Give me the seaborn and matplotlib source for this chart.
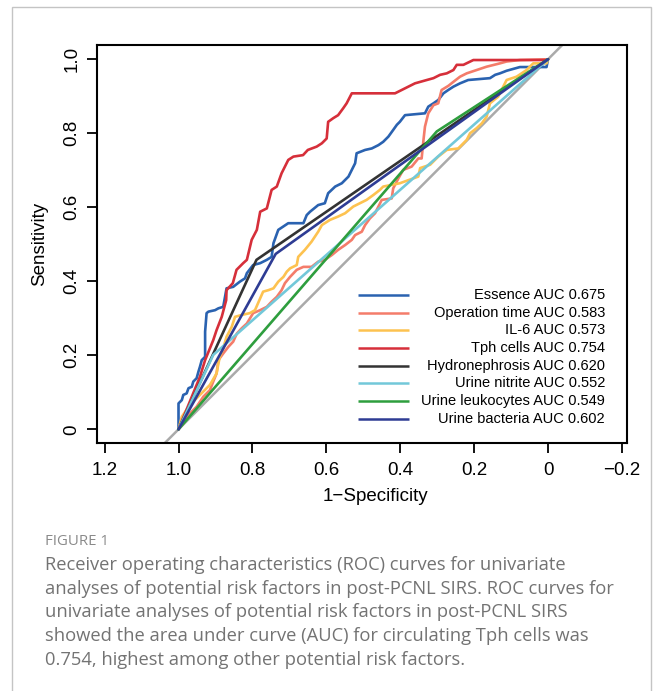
import numpy as np
import pandas as pd
import matplotlib
matplotlib.use("Agg")
import matplotlib.pyplot as plt
import seaborn as sns
from matplotlib.patches import Rectangle

# ---------------- data (specificity on x, reversed axis; sensitivity on y) ----------------
names = ["Essence", "Operation time", "IL-6", "Tph cells", "Hydronephrosis",
         "Urine nitrite", "Urine leukocytes", "Urine bacteria"]
aucs = ["0.675", "0.583", "0.573", "0.754", "0.620", "0.552", "0.549", "0.602"]
colors = ["#2A62B0", "#F47C6A", "#FDC250", "#D62F3A", "#333333",
          "#72C8D9", "#2E9E3E", "#2E3C94"]

essence_x = [1.0, 1.0, 0.991, 0.987, 0.978, 0.973, 0.964, 0.960, 0.951, 0.946, 0.942, 0.937,
             0.928, 0.928, 0.924, 0.919, 0.901, 0.892, 0.879, 0.870, 0.852, 0.834, 0.820,
             0.815, 0.798, 0.779, 0.761, 0.748, 0.743, 0.730, 0.703, 0.662, 0.653, 0.644,
             0.622, 0.604, 0.595, 0.576, 0.558, 0.540, 0.522, 0.518, 0.495, 0.477, 0.459,
             0.446, 0.432, 0.419, 0.409, 0.401, 0.387, 0.333, 0.324, 0.310, 0.297, 0.283,
             0.270, 0.256, 0.238, 0.216, 0.157, 0.143, 0.130, 0.112, 0.076, 0.004, 0.0]
essence_y = [0.0, 0.070, 0.079, 0.093, 0.097, 0.111, 0.115, 0.129, 0.138, 0.156, 0.169, 0.187,
             0.196, 0.264, 0.314, 0.318, 0.322, 0.327, 0.331, 0.381, 0.385, 0.399, 0.408,
             0.422, 0.444, 0.449, 0.458, 0.466, 0.503, 0.539, 0.557, 0.557, 0.579, 0.588,
             0.606, 0.611, 0.638, 0.656, 0.665, 0.683, 0.719, 0.746, 0.755, 0.759, 0.768,
             0.777, 0.791, 0.809, 0.823, 0.831, 0.849, 0.854, 0.872, 0.881, 0.890, 0.908,
             0.917, 0.926, 0.935, 0.944, 0.949, 0.958, 0.962, 0.969, 0.979, 0.979, 1.0]

optime_x = [1.0, 0.987, 0.969, 0.951, 0.933, 0.915, 0.906, 0.897, 0.892, 0.879, 0.865, 0.852,
            0.842, 0.829, 0.815, 0.798, 0.779, 0.761, 0.748, 0.734, 0.721, 0.712, 0.698,
            0.680, 0.662, 0.640, 0.622, 0.604, 0.585, 0.568, 0.549, 0.531, 0.522, 0.504,
            0.495, 0.482, 0.468, 0.459, 0.450, 0.423, 0.419, 0.405, 0.392, 0.369, 0.351,
            0.342, 0.337, 0.333, 0.324, 0.310, 0.297, 0.288, 0.270, 0.256, 0.238, 0.220,
            0.193, 0.166, 0.130, 0.112, 0.076, 0.0]
optime_y = [0.0, 0.016, 0.043, 0.061, 0.088, 0.106, 0.129, 0.151, 0.187, 0.205, 0.223, 0.237,
            0.259, 0.273, 0.286, 0.314, 0.322, 0.331, 0.345, 0.358, 0.376, 0.395, 0.412,
            0.431, 0.439, 0.439, 0.453, 0.458, 0.471, 0.485, 0.498, 0.512, 0.525, 0.534,
            0.552, 0.570, 0.584, 0.602, 0.620, 0.624, 0.651, 0.678, 0.701, 0.710, 0.732,
            0.732, 0.782, 0.818, 0.854, 0.876, 0.881, 0.917, 0.928, 0.939, 0.953, 0.962,
            0.971, 0.980, 0.989, 0.994, 0.998, 1.0]

il6_x = [1.0, 0.991, 0.969, 0.942, 0.915, 0.897, 0.892, 0.888, 0.879, 0.870, 0.856, 0.847,
         0.829, 0.807, 0.793, 0.779, 0.771, 0.757, 0.743, 0.730, 0.716, 0.707, 0.698, 0.680,
         0.676, 0.658, 0.640, 0.622, 0.612, 0.590, 0.568, 0.549, 0.527, 0.509, 0.491, 0.473,
         0.455, 0.446, 0.401, 0.351, 0.346, 0.319, 0.297, 0.274, 0.243, 0.220, 0.211, 0.193,
         0.179, 0.166, 0.157, 0.135, 0.112, 0.085, 0.058, 0.040, 0.004, 0.0]
il6_y = [0.0, 0.034, 0.066, 0.093, 0.120, 0.151, 0.178, 0.196, 0.219, 0.250, 0.277, 0.304,
         0.309, 0.314, 0.322, 0.354, 0.372, 0.376, 0.381, 0.399, 0.412, 0.426, 0.435, 0.444,
         0.466, 0.485, 0.507, 0.534, 0.552, 0.566, 0.575, 0.584, 0.602, 0.611, 0.620, 0.633,
         0.647, 0.656, 0.665, 0.683, 0.706, 0.715, 0.737, 0.755, 0.759, 0.782, 0.800, 0.814,
         0.827, 0.845, 0.881, 0.899, 0.944, 0.953, 0.971, 0.989, 0.989, 1.0]

tph_x = [1.0, 0.942, 0.928, 0.906, 0.897, 0.883, 0.871, 0.870, 0.853, 0.843, 0.825, 0.815,
         0.802, 0.788, 0.779, 0.761, 0.748, 0.734, 0.721, 0.703, 0.689, 0.663, 0.650, 0.626,
         0.612, 0.599, 0.595, 0.581, 0.568, 0.554, 0.545, 0.531, 0.414, 0.396, 0.378, 0.360,
         0.328, 0.310, 0.292, 0.274, 0.256, 0.247, 0.229, 0.202, 0.004, 0.0]
tph_y = [0.0, 0.142, 0.187, 0.241, 0.268, 0.304, 0.349, 0.376, 0.395, 0.431, 0.449, 0.458,
         0.512, 0.539, 0.588, 0.597, 0.647, 0.656, 0.692, 0.728, 0.737, 0.741, 0.755, 0.764,
         0.773, 0.786, 0.831, 0.841, 0.849, 0.868, 0.881, 0.908, 0.908, 0.917, 0.926, 0.935,
         0.944, 0.949, 0.958, 0.962, 0.971, 0.985, 0.985, 0.998, 0.998, 1.0]

hydro_x = [1.0, 0.789, 0.0]
hydro_y = [0.0, 0.458, 1.0]
nitrite_x = [1.0, 0.906, 0.0]
nitrite_y = [0.0, 0.201, 1.0]
leuko_x = [1.0, 0.301, 0.0]
leuko_y = [0.0, 0.805, 1.0]
bacteria_x = [1.0, 0.737, 0.0]
bacteria_y = [0.0, 0.474, 1.0]

diag_x = [1.0, 0.0]
diag_y = [0.0, 1.0]

xticks = [1.2, 1.0, 0.8, 0.6, 0.4, 0.2, 0.0, -0.2]
xticklabels = ["1.2", "1.0", "0.8", "0.6", "0.4", "0.2", "0", "\u22120.2"]
yticks = [0.0, 0.2, 0.4, 0.6, 0.8, 1.0]
yticklabels = ["0", "0.2", "0.4", "0.6", "0.8", "1.0"]

caption_title = "FIGURE 1"
caption_lines = [
    "Receiver operating characteristics (ROC) curves for univariate",
    "analyses of potential risk factors in post-PCNL SIRS. ROC curves for",
    "univariate analyses of potential risk factors in post-PCNL SIRS",
    "showed the area under curve (AUC) for circulating Tph cells was",
    "0.754, highest among other potential risk factors.",
]

curves_x = [essence_x, optime_x, il6_x, tph_x, hydro_x, nitrite_x, leuko_x, bacteria_x]
curves_y = [essence_y, optime_y, il6_y, tph_y, hydro_y, nitrite_y, leuko_y, bacteria_y]

frames = []
for n, xs, ys in zip(names, curves_x, curves_y):
    frames.append(pd.DataFrame({"spec": xs, "sens": ys, "marker": n,
                                "order": np.arange(len(xs))}))
df = pd.concat(frames, ignore_index=True)

# ---------------- figure ----------------
sns.set_theme(style="ticks")
plt.rcParams["font.family"] = ["Liberation Sans", "DejaVu Sans"]

fig = plt.figure(figsize=(6.58, 6.91), dpi=100)
fig.patch.set_facecolor("white")

# outer light-grey frame of the figure panel
fig.patches.append(Rectangle((12 / 658, -0.05), (651 - 12) / 658, 1.05 - 7 / 691,
                             transform=fig.transFigure, fill=False,
                             edgecolor="#c4c4c4", linewidth=1.0))

ax = fig.add_axes([97 / 658, 1 - 443 / 691, 530 / 658, 398 / 691])

ax.axline((diag_x[0], diag_y[0]), (diag_x[1], diag_y[1]), color="#AAAAAA", lw=1.8, zorder=1)

sns.lineplot(data=df, x="spec", y="sens", hue="marker", hue_order=names,
             palette=dict(zip(names, colors)), sort=False, estimator=None,
             units="marker", lw=1.9, legend=False, ax=ax, zorder=2)

ax.set_xlim(1.2206, -0.2138)
ax.set_ylim(-0.037, 1.0386)
ax.set_xticks(xticks)
ax.set_xticklabels(xticklabels)
ax.set_yticks(yticks)
ax.set_yticklabels(yticklabels)
ax.tick_params(axis="both", direction="out", length=7.5, width=1.3, labelsize=13.5,
               colors="black", bottom=True, left=True)
ax.tick_params(axis="x", pad=6.5)
ax.tick_params(axis="y", pad=4.5)
for lbl in ax.get_yticklabels():
    lbl.set_rotation(90)
    lbl.set_va("center")
for s in ax.spines.values():
    s.set_visible(True)
    s.set_color("black")
    s.set_linewidth(1.5)

ax.set_xlabel("1\u2212Specificity", fontsize=13.5, color="black")
ax.set_ylabel("Sensitivity", fontsize=13.5, color="black")
ax.xaxis.set_label_coords(0.526, -0.114)
ax.yaxis.set_label_coords(-0.093, 0.5)

# legend (R style: keys on the left, labels right-justified)
row0 = 0.372
drow = 0.04435
for i, (n, a, c) in enumerate(zip(names, aucs, colors)):
    yy = row0 - i * drow
    ax.plot([0.493, 0.589], [yy, yy], transform=ax.transAxes, color=c, lw=1.8,
            solid_capstyle="butt", zorder=3)
    ax.text(0.9585, yy, f"{n} AUC {a}", transform=ax.transAxes, ha="right",
            va="center", fontsize=10.5, color="black")

# caption
cap_font = ["Open Sans", "DejaVu Sans"]
fig.text(45 / 658, 1 - 541.7 / 691, caption_title, fontsize=10.8, color="#8a8a8a",
         family=cap_font, va="center", ha="left")
for i, line in enumerate(caption_lines):
    fig.text(45 / 658, 1 - (565 + i * 23.7) / 691, line, fontsize=13.2,
             color="#737373", family=cap_font, va="center", ha="left")

fig.savefig("out.png", dpi=100, facecolor="white")
